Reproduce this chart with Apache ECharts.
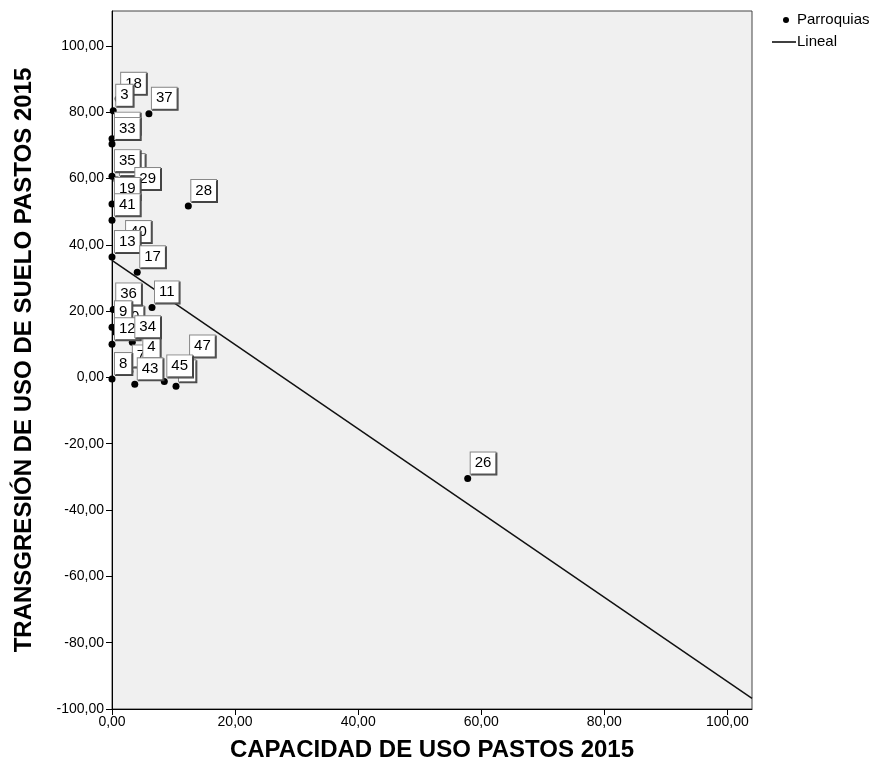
<!DOCTYPE html>
<html>
<head>
<meta charset="utf-8">
<script src="https://cdn.jsdelivr.net/npm/echarts@6/dist/echarts.min.js"></script>
<style>
  html, body { margin: 0; padding: 0; background: #fff; }
  #chart { width: 891px; height: 780px; }
</style>
</head>
<body>
<div id="chart"></div>
<script>
// parroquias (etiqueta, capacidad, transgresion)
const names = ['23', '25', '10', '7', '6', '4', '40', '18', '3', '33', '35', '29', '19', '41', '13', '17', '36', '11', '9', '12', '34', '8', '43', '47', '45', '37', '28', '26']
const capacidad = [0.0, 0.8, 0.6, 2.9, 10.4, 4.6, 1.8, 1.0, 0.2, 0.0, 0.0, 3.3, 0.0, 0.0, 0.0, 4.1, 0.2, 6.5, 0.0, 0.0, 3.3, 0.0, 3.7, 12.2, 8.5, 6.0, 12.4, 57.8]
const transgresion = [72.0, 59.5, 13.6, 1.8, -2.7, 4.5, 39.3, 84.0, 80.4, 70.4, 60.7, 55.3, 52.3, 47.4, 36.3, 31.7, 20.5, 21.1, 15.1, 10.0, 10.6, -0.5, -2.1, 4.8, -1.2, 79.5, 51.7, -30.5]

// recta de ajuste lineal (extremos leidos)
const lineX = [0, 104]
const lineY = [35.3, -96.8]

const xTicks = [0, 20, 40, 60, 80, 100]
const yTicks = [-100, -80, -60, -40, -20, 0, 20, 40, 60, 80, 100]

const fmt = v => v.toFixed(2).replace('.', ',')

const myChart = echarts.init(document.getElementById('chart'))

const option = {
	backgroundColor: '#fff',
	animation: false,
	textStyle: { fontFamily: 'Liberation Sans, Arial, sans-serif' },
	grid: {
		left: 112,
		top: 11,
		right: 139,
		bottom: 71,
		show: true,
		backgroundColor: '#f0f0f0',
		borderColor: '#444',
		borderWidth: 1,
	},
	xAxis: {
		type: 'value',
		min: 0,
		max: 104,
		name: 'CAPACIDAD DE USO PASTOS 2015',
		nameLocation: 'middle',
		nameGap: 29,
		nameTextStyle: { fontSize: 24, fontWeight: 'bold', color: '#000' },
		axisLine: { onZero: false, lineStyle: { color: '#000' } },
		axisTick: { show: true, length: 6, customValues: xTicks, lineStyle: { color: '#000' } },
		axisLabel: { color: '#000', fontSize: 14, margin: 6, customValues: xTicks, formatter: fmt },
		splitLine: { show: false },
	},
	yAxis: {
		type: 'value',
		min: -100,
		max: 110.5,
		name: 'TRANSGRESIÓN DE USO DE SUELO PASTOS 2015',
		nameLocation: 'middle',
		nameGap: 76,
		nameTextStyle: { fontSize: 24, fontWeight: 'bold', color: '#000' },
		axisLine: { onZero: false, lineStyle: { color: '#000' } },
		axisTick: { show: true, length: 6, customValues: yTicks, lineStyle: { color: '#000' } },
		axisLabel: { color: '#000', fontSize: 14, margin: 8, customValues: yTicks, formatter: fmt },
		splitLine: { show: false },
	},
	series: [
		{
			name: 'Lineal',
			type: 'line',
			data: lineX.map((x, i) => [x, lineY[i]]),
			symbol: 'none',
			lineStyle: { color: '#111', width: 1.5 },
			z: 2,
			silent: true,
		},
		{
			name: 'Parroquias',
			type: 'scatter',
			symbol: 'circle',
			symbolSize: 7,
			itemStyle: { color: '#000', opacity: 1 },
			data: names.map((n, i) => ({ name: n, value: [capacidad[i], transgresion[i]] })),
			label: {
				show: true,
				position: [6.5, -22.5],
				formatter: p => p.name,
				color: '#000',
				fontSize: 15,
				lineHeight: 15,
				backgroundColor: '#fff',
				borderColor: '#888',
				borderWidth: 1,
				padding: [3, 4, 3, 4],
				shadowColor: '#444',
				shadowOffsetX: 1,
				shadowOffsetY: 1,
				shadowBlur: 0,
			},
			z: 3,
		},
	],
	graphic: [
		{ type: 'circle', shape: { cx: 786, cy: 20, r: 3 }, style: { fill: '#000' } },
		{ type: 'text', left: 797, top: 12, style: { text: 'Parroquias', fontSize: 15, fill: '#000', fontFamily: 'Liberation Sans, Arial' } },
		{ type: 'line', shape: { x1: 772, y1: 42, x2: 796, y2: 42 }, style: { stroke: '#000', lineWidth: 1.5 } },
		{ type: 'text', left: 797, top: 34, style: { text: 'Lineal', fontSize: 15, fill: '#000', fontFamily: 'Liberation Sans, Arial' } },
	],
}

myChart.setOption(option)
</script>
</body>
</html>
